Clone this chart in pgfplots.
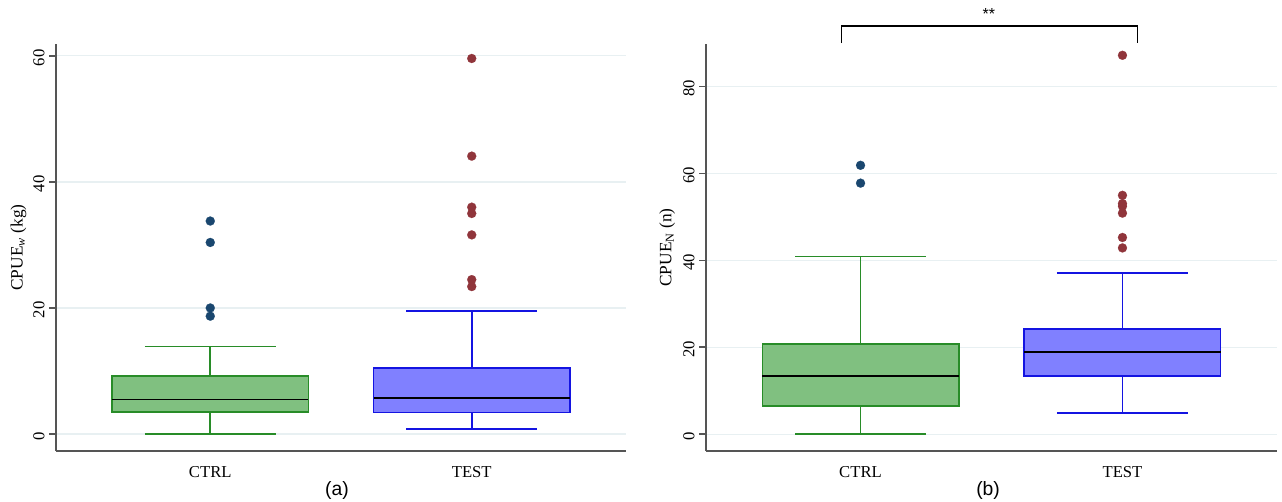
\documentclass[border=0pt]{standalone}
\usepackage{fontspec}
\setmainfont{Liberation Serif}
\newfontfamily\capfont{Liberation Sans}
\usepackage{pgfplots}
\pgfplotsset{compat=1.18}
\usepgfplotslibrary{statistics}

\definecolor{gfill}{RGB}{128,192,128}
\definecolor{gedge}{RGB}{40,140,40}
\definecolor{bfill}{RGB}{128,128,255}
\definecolor{bedge}{RGB}{20,20,225}
\definecolor{navyo}{RGB}{26,71,111}
\definecolor{maroono}{RGB}{144,53,59}
\definecolor{gridc}{RGB}{232,240,242}
\definecolor{axc}{RGB}{85,85,85}

\pgfplotsset{
  panel/.style={
    scale only axis,
    anchor=south west,
    height=305.25pt,
    axis x line*=bottom,
    axis y line*=left,
    axis line style={-, draw=axc, line width=1pt},
    x axis line style={-},
    y axis line style={-},
    xtick={1,2},
    xticklabels={CTRL,TEST},
    xtick style={draw=none},
    ytick style={draw=axc, line width=0.9pt},
    tick align=outside,
    major tick length=5pt,
    ymajorgrids,
    major grid style={draw=gridc, line width=0.8pt},
    /pgf/number format/assume math mode=true,
    ticklabel style={font=\fontsize{12.5}{15}\selectfont},
    yticklabel style={rotate=90, anchor=south, xshift=-1.5pt},
    xticklabel style={yshift=-3pt},
    label style={font=\fontsize{13}{15}\selectfont},
    xmin=0.41, xmax=2.59,
    boxplot/draw direction=y,
    boxplot/box extend=0.75,
    boxplot/whisker extend=0.5,
    boxplot/every median/.style={draw=black, line width=1.2pt},
  },
  gbox/.style={draw=gedge, fill=gfill, line width=1.2pt, solid,
    mark=*, mark size=3.4pt, mark options={draw=navyo, fill=navyo, solid, line width=0.1pt}},
  bbox/.style={draw=bedge, fill=bfill, line width=1.2pt, solid,
    mark=*, mark size=3.4pt, mark options={draw=maroono, fill=maroono, solid, line width=0.1pt}},
}

\begin{document}
\begin{tikzpicture}
\path[use as bounding box] (0,0) rectangle (961.5pt,376.5pt);

% ---------- panel (a) ----------
\begin{axis}[panel,
  at={(42pt,38.25pt)},
  width=427.5pt,
  ymin=-2.7, ymax=61.9,
  ytick={0,20,40,60},
  ylabel={CPUE\textsubscript{\textit{w}} (kg)},
  ylabel style={at={(axis description cs:-0.066,0.5)}, anchor=center},
  xlabel={\capfont\fontsize{14.5}{16}\selectfont (a)},
  xlabel style={at={(axis description cs:0.493,-0.097)}, anchor=center},
]
\addplot[gbox, boxplot prepared={median=5.5, upper quartile=9.2, lower quartile=3.5,
  upper whisker=13.9, lower whisker=0, draw position=1}]
  table[row sep=\\, y index=0]{data\\ 33.8\\ 30.4\\ 20.0\\ 18.7\\};
\addplot[bbox, boxplot prepared={median=5.7, upper quartile=10.5, lower quartile=3.4,
  upper whisker=19.5, lower whisker=0.75, draw position=2}]
  table[row sep=\\, y index=0]{data\\ 59.6\\ 44.1\\ 36.0\\ 35.0\\ 31.6\\ 24.5\\ 23.4\\};
\end{axis}

% ---------- panel (b) ----------
\begin{axis}[panel,
  at={(529.5pt,38.25pt)},
  width=428.25pt,
  ymin=-3.9, ymax=89.7,
  ytick={0,20,40,60,80},
  clip=false,
  ylabel={CPUE\textsubscript{N} (n)},
  ylabel style={at={(axis description cs:-0.068,0.5)}, anchor=center},
  xlabel={\capfont\fontsize{14.5}{16}\selectfont (b)},
  xlabel style={at={(axis description cs:0.494,-0.097)}, anchor=center},
]
\addplot[gbox, boxplot prepared={median=13.3, upper quartile=20.7, lower quartile=6.5,
  upper whisker=40.8, lower whisker=0, draw position=1}]
  table[row sep=\\, y index=0]{data\\ 61.8\\ 57.7\\};
\addplot[bbox, boxplot prepared={median=18.9, upper quartile=24.1, lower quartile=13.4,
  upper whisker=37.1, lower whisker=4.8, draw position=2}]
  table[row sep=\\, y index=0]{data\\ 87.1\\ 54.9\\ 53.0\\ 52.4\\ 50.8\\ 45.2\\ 42.8\\};
% significance bracket
\addplot[black, line width=1pt, mark=none] coordinates {(0.927,89.9) (0.927,93.8) (2.057,93.8) (2.057,89.9)};
\node[font=\capfont\fontsize{12}{14}\selectfont] at (axis cs:1.49,96.6) {**};
\end{axis}
\end{tikzpicture}
\end{document}
